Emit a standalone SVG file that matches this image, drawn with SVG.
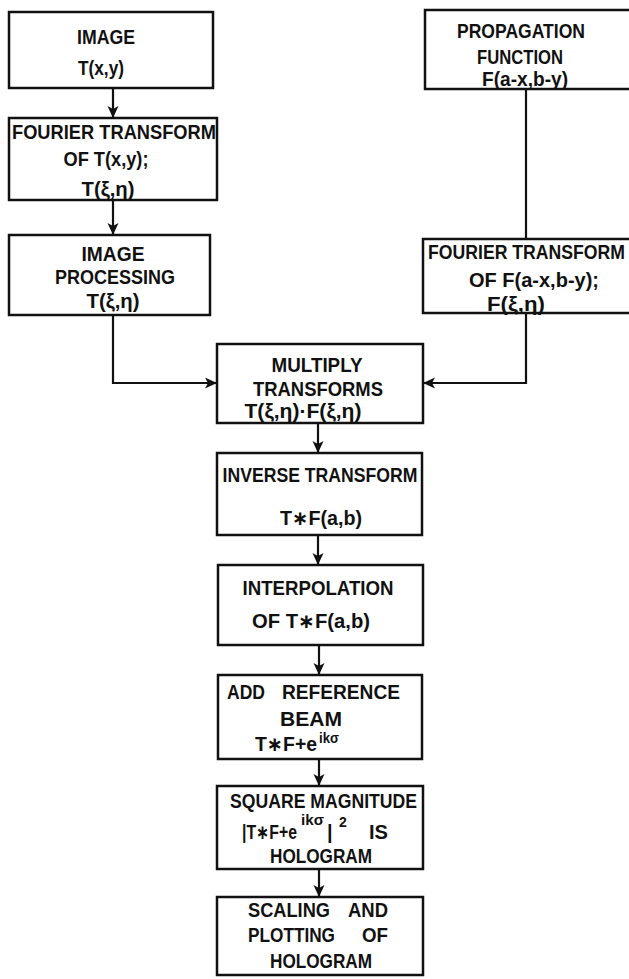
<svg xmlns="http://www.w3.org/2000/svg" width="629" height="979" viewBox="0 0 629 979">
  <defs>
    <marker id="arrow" markerUnits="userSpaceOnUse" markerWidth="14" markerHeight="12" refX="12" refY="5.5" orient="auto">
      <path d="M0,0 L12,5.5 L0,11 L3,5.5 z" fill="#111"/>
    </marker>
    <style>
      .box { fill: none; stroke: #111; stroke-width: 2.5; }
      .wire { fill: none; stroke: #111; stroke-width: 2.2; }
      .t { font-family: "Liberation Sans", "DejaVu Sans", sans-serif; font-weight: bold; font-size: 20px; fill: #111; text-anchor: middle; }
      .s { text-anchor: start; }
      .sup { font-family: "Liberation Sans", "DejaVu Sans", sans-serif; font-weight: bold; font-size: 14px; fill: #111; }
    </style>
  </defs>
  <rect width="629" height="979" fill="#fff"/>

  <!-- connectors -->
  <g id="connectors">
    <path class="wire" d="M113,88 V118" marker-end="url(#arrow)"/>
    <path class="wire" d="M113,200 V235" marker-end="url(#arrow)"/>
    <path class="wire" d="M113,315 V383 H217" marker-end="url(#arrow)"/>
    <path class="wire" d="M526,89 V239"/>
    <path class="wire" d="M526,313 V383 H423" marker-end="url(#arrow)"/>
    <path class="wire" d="M318,423 V453" marker-end="url(#arrow)"/>
    <path class="wire" d="M318,535 V565" marker-end="url(#arrow)"/>
    <path class="wire" d="M319,645 V675" marker-end="url(#arrow)"/>
    <path class="wire" d="M319,759 V786" marker-end="url(#arrow)"/>
    <path class="wire" d="M319,869 V897" marker-end="url(#arrow)"/>
  </g>

  <g id="image">
    <rect class="box" x="9" y="12" width="204" height="76"/>
    <text class="t" x="106" y="44" textLength="58" lengthAdjust="spacingAndGlyphs">IMAGE</text>
    <text class="t" x="101" y="75" textLength="46" lengthAdjust="spacingAndGlyphs">T(x,y)</text>
  </g>

  <g id="fourier-image">
    <rect class="box" x="9" y="118" width="208" height="82"/>
    <text class="t s" x="12" y="139" textLength="204" lengthAdjust="spacingAndGlyphs">FOURIER TRANSFORM</text>
    <text class="t" x="106" y="166" textLength="85" lengthAdjust="spacingAndGlyphs">OF T(x,y);</text>
    <text class="t" x="108" y="196" textLength="53" lengthAdjust="spacingAndGlyphs">T(ξ,η)</text>
  </g>

  <g id="image-processing">
    <rect class="box" x="9" y="235" width="201" height="80"/>
    <text class="t" x="113" y="261" textLength="63" lengthAdjust="spacingAndGlyphs">IMAGE</text>
    <text class="t" x="115" y="284" textLength="120" lengthAdjust="spacingAndGlyphs">PROCESSING</text>
    <text class="t" x="113" y="308" textLength="53" lengthAdjust="spacingAndGlyphs">T(ξ,η)</text>
  </g>

  <g id="propagation">
    <rect class="box" x="425" y="10" width="210" height="79"/>
    <text class="t" x="521" y="38" textLength="128" lengthAdjust="spacingAndGlyphs">PROPAGATION</text>
    <text class="t" x="520" y="64" textLength="86" lengthAdjust="spacingAndGlyphs">FUNCTION</text>
    <text class="t" x="525" y="86" textLength="86" lengthAdjust="spacingAndGlyphs">F(a-x,b-y)</text>
  </g>

  <g id="fourier-propagation">
    <rect class="box" x="423" y="239" width="212" height="74"/>
    <text class="t s" x="428" y="259" textLength="197" lengthAdjust="spacingAndGlyphs">FOURIER TRANSFORM</text>
    <text class="t" x="534" y="287" textLength="130" lengthAdjust="spacingAndGlyphs">OF F(a-x,b-y);</text>
    <text class="t" x="516" y="311" textLength="58" lengthAdjust="spacingAndGlyphs">F(ξ,η)</text>
  </g>

  <g id="multiply">
    <rect class="box" x="217" y="344" width="206" height="79"/>
    <text class="t" x="317" y="372" textLength="91" lengthAdjust="spacingAndGlyphs">MULTIPLY</text>
    <text class="t" x="318" y="396" textLength="130" lengthAdjust="spacingAndGlyphs">TRANSFORMS</text>
    <text class="t" x="303" y="418" textLength="117" lengthAdjust="spacingAndGlyphs">T(ξ,η)·F(ξ,η)</text>
  </g>

  <g id="inverse">
    <rect class="box" x="217" y="453" width="205" height="82"/>
    <text class="t" x="320" y="482" textLength="195" lengthAdjust="spacingAndGlyphs">INVERSE TRANSFORM</text>
    <text class="t" x="321" y="525" textLength="82" lengthAdjust="spacingAndGlyphs">T∗F(a,b)</text>
  </g>

  <g id="interpolation">
    <rect class="box" x="218" y="565" width="205" height="80"/>
    <text class="t" x="318" y="595" textLength="151" lengthAdjust="spacingAndGlyphs">INTERPOLATION</text>
    <text class="t" x="311" y="628" textLength="118" lengthAdjust="spacingAndGlyphs">OF T∗F(a,b)</text>
  </g>

  <g id="reference-beam">
    <rect class="box" x="218" y="675" width="204" height="84"/>
    <text class="t s" x="227" y="699" textLength="38" lengthAdjust="spacingAndGlyphs">ADD</text>
    <text class="t s" x="282" y="699" textLength="118" lengthAdjust="spacingAndGlyphs">REFERENCE</text>
    <text class="t" x="311" y="726" textLength="62" lengthAdjust="spacingAndGlyphs">BEAM</text>
    <text class="t s" x="255" y="751" textLength="62" lengthAdjust="spacingAndGlyphs">T∗F+e</text>
    <text class="sup" x="319" y="743" textLength="20" lengthAdjust="spacingAndGlyphs">ikσ</text>
  </g>

  <g id="square-magnitude">
    <rect class="box" x="217" y="786" width="206" height="83"/>
    <text class="t s" x="230" y="808" textLength="187" lengthAdjust="spacingAndGlyphs">SQUARE MAGNITUDE</text>
    <text class="t s" x="242" y="839" textLength="55" lengthAdjust="spacingAndGlyphs">|T∗F+e</text>
    <text class="sup" x="301" y="825" textLength="23" lengthAdjust="spacingAndGlyphs">ikσ</text>
    <text class="t s" x="327" y="839">|</text>
    <text class="sup" x="339" y="827">2</text>
    <text class="t s" x="369" y="839" textLength="19" lengthAdjust="spacingAndGlyphs">IS</text>
    <text class="t" x="321" y="863" textLength="102" lengthAdjust="spacingAndGlyphs">HOLOGRAM</text>
  </g>

  <g id="scaling">
    <rect class="box" x="217" y="897" width="206" height="78"/>
    <text class="t s" x="248" y="917" textLength="82" lengthAdjust="spacingAndGlyphs">SCALING</text>
    <text class="t s" x="348" y="917" textLength="40" lengthAdjust="spacingAndGlyphs">AND</text>
    <text class="t s" x="248" y="942" textLength="87" lengthAdjust="spacingAndGlyphs">PLOTTING</text>
    <text class="t s" x="362" y="942" textLength="26" lengthAdjust="spacingAndGlyphs">OF</text>
    <text class="t" x="321" y="968" textLength="102" lengthAdjust="spacingAndGlyphs">HOLOGRAM</text>
  </g>
</svg>
